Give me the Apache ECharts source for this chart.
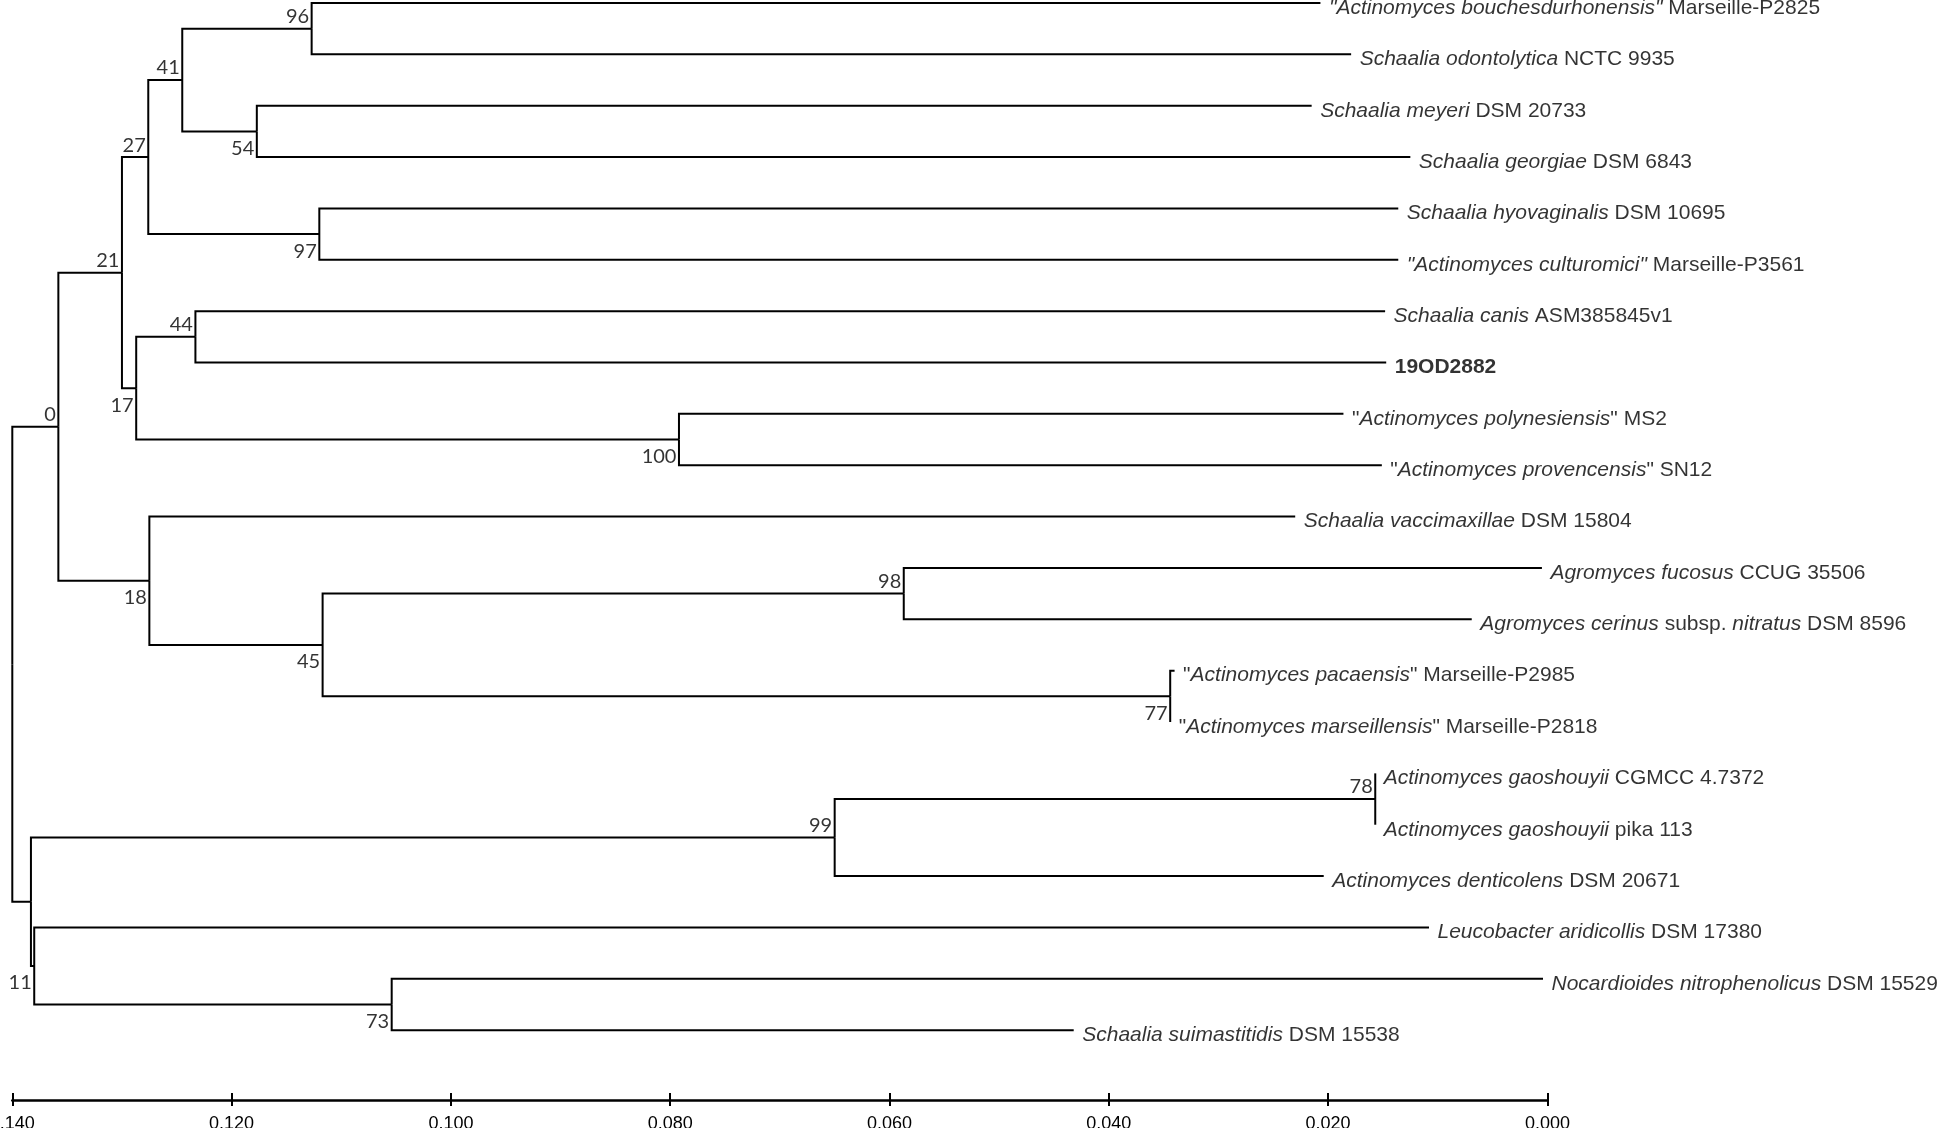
<!DOCTYPE html>
<html>
<head>
<meta charset="utf-8">
<script src="https://cdn.jsdelivr.net/npm/echarts@6/dist/echarts.min.js"></script>
<style>
html,body{margin:0;padding:0;background:#fff;}
#chart{width:1946px;height:1128px;}
</style>
</head>
<body>
<div id="chart"></div>
<script>
// ---- DATA ----
const leafNames = [
  '{i|"Actinomyces bouchesdurhonensis"} Marseille-P2825',
  '{i|Schaalia odontolytica} NCTC 9935',
  '{i|Schaalia meyeri} DSM 20733',
  '{i|Schaalia georgiae} DSM 6843',
  '{i|Schaalia hyovaginalis} DSM 10695',
  '{i|"Actinomyces culturomici"} Marseille-P3561',
  '{i|Schaalia canis} ASM385845v1',
  '{b|19OD2882}',
  '"{i|Actinomyces polynesiensis}" MS2',
  '"{i|Actinomyces provencensis}" SN12',
  '{i|Schaalia vaccimaxillae} DSM 15804',
  '{i|Agromyces fucosus} CCUG 35506',
  '{i|Agromyces cerinus} subsp. {i|nitratus} DSM 8596',
  '"{i|Actinomyces pacaensis}" Marseille-P2985',
  '"{i|Actinomyces marseillensis}" Marseille-P2818',
  '{i|Actinomyces gaoshouyii} CGMCC 4.7372',
  '{i|Actinomyces gaoshouyii} pika 113',
  '{i|Actinomyces denticolens} DSM 20671',
  '{i|Leucobacter aridicollis} DSM 17380',
  '{i|Nocardioides nitrophenolicus} DSM 15529',
  '{i|Schaalia suimastitidis} DSM 15538'
];
// tip position on the distance axis
const leafX = [0.0207, 0.0179, 0.0215, 0.0125, 0.0136, 0.0136, 0.0148, 0.0147, 0.0186, 0.0151,
               0.0230, 0.0005, 0.0069, 0.0340, 0.0344, 0.0157, 0.0157, 0.0204, 0.0108, 0.0004, 0.0432];
// internal nodes: bootstrap label, position, children
const nodeBoot = ['96','54','41','97','27','44','100','17','21','98','77','45','18','0','78','99','73','11','',''];
const nodeX = [0.1127, 0.1177, 0.1245, 0.1120, 0.1276, 0.1233, 0.0792, 0.1287, 0.1300, 0.0587,
               0.0344, 0.1117, 0.1275, 0.1358, 0.0157, 0.0650, 0.1054, 0.1380, 0.1383, 0.1400];
const nodeKids = [
  ['L0','L1'], ['L2','L3'], ['N0','N1'], ['L4','L5'], ['N2','N3'],
  ['L6','L7'], ['L8','L9'], ['N5','N6'], ['N4','N7'], ['L11','L12'],
  ['L13','L14'], ['N9','N10'], ['L10','N11'], ['N8','N12'], ['L15','L16'],
  ['N14','L17'], ['L19','L20'], ['L18','N16'], ['N15','N17'], ['N13','N18']
];

// ---- LAYOUT FROM TOPOLOGY ----
function posOf(id) {
  const k = parseInt(id.slice(1), 10);
  if (id[0] === 'L') return [leafX[k], k];
  return [nodeX[k], nodeY(k)];
}
const yCache = {};
function nodeY(k) {
  if (yCache[k] !== undefined) return yCache[k];
  const kids = nodeKids[k].map(posOf);
  const y = (kids[0][1] + kids[kids.length - 1][1]) / 2;
  yCache[k] = y;
  return y;
}

const edges = [];
const bootAbove = [], bootBelow = [];
nodeKids.forEach((kids, k) => {
  const px = nodeX[k], py = nodeY(k);
  kids.forEach((id, i) => {
    const c = posOf(id);
    edges.push({ coords: [[px, py], [px, c[1]], [c[0], c[1]]] });
    if (id[0] === 'N') {
      const ck = parseInt(id.slice(1), 10);
      if (nodeBoot[ck] !== '') {
        (i === 0 ? bootAbove : bootBelow).push({ value: [c[0], c[1]], name: nodeBoot[ck] });
      }
    }
  });
});
const leafPts = leafNames.map((n, i) => ({ value: [leafX[i], i], name: n }));

const FONT = '"Liberation Sans", Arial, sans-serif';
const chart = echarts.init(document.getElementById('chart'), null, { renderer: 'canvas' });
const gridBox = { left: 12.3, right: 398.6, top: 3, bottom: 28, containLabel: false, outerBoundsMode: 'none' };
const baseX = {
  type: 'value', min: 0, max: 0.14, interval: 0.02, inverse: true, position: 'bottom',
  splitLine: { show: false }
};
chart.setOption({
  animation: false,
  backgroundColor: '#fff',
  grid: [Object.assign({}, gridBox), Object.assign({}, gridBox)],
  xAxis: [
    Object.assign({}, baseX, {
      gridIndex: 0,
      axisLine: { show: true, onZero: false, lineStyle: { color: '#000', width: 2.5 } },
      axisTick: { show: true, inside: false, length: 6, lineStyle: { color: '#000', width: 2 } },
      axisLabel: {
        show: true, margin: 15, color: '#000', fontSize: 18, fontFamily: FONT,
        formatter: v => v.toFixed(3)
      }
    }),
    Object.assign({}, baseX, {
      gridIndex: 1,
      axisLine: { show: false, onZero: false },
      axisTick: { show: true, inside: true, length: 7, lineStyle: { color: '#000', width: 2 } },
      axisLabel: { show: false }
    })
  ],
  yAxis: [
    { gridIndex: 0, type: 'value', min: 0, max: 21.36, inverse: true, show: false },
    { gridIndex: 1, type: 'value', min: 0, max: 21.36, inverse: true, show: false }
  ],
  series: [
    {
      type: 'lines', coordinateSystem: 'cartesian2d', polyline: true, silent: true,
      lineStyle: { color: '#000', width: 2, opacity: 1 },
      data: edges
    },
    {
      type: 'scatter', symbolSize: 1, itemStyle: { color: 'transparent' }, silent: true,
      data: leafPts,
      label: {
        show: true, position: 'right', distance: 8, offset: [0, 5],
        formatter: p => p.name,
        color: '#000', fontSize: 21, fontFamily: FONT,
        rich: {
          i: { fontStyle: 'italic', fontSize: 21, fontFamily: FONT, color: '#000' },
          b: { fontWeight: 'bold', fontSize: 21, fontFamily: FONT, color: '#000' }
        }
      }
    },
    {
      type: 'scatter', symbolSize: 1, itemStyle: { color: 'transparent' }, silent: true,
      data: bootAbove,
      label: {
        show: true, position: 'left', distance: 2, offset: [0, -12],
        formatter: p => p.name, color: '#000', fontSize: 20, fontFamily: 'Lato'
      }
    },
    {
      type: 'scatter', symbolSize: 1, itemStyle: { color: 'transparent' }, silent: true,
      data: bootBelow,
      label: {
        show: true, position: 'left', distance: 2, offset: [0, 17],
        formatter: p => p.name, color: '#000', fontSize: 20, fontFamily: 'Lato'
      }
    }
  ]
});
</script>
</body>
</html>
